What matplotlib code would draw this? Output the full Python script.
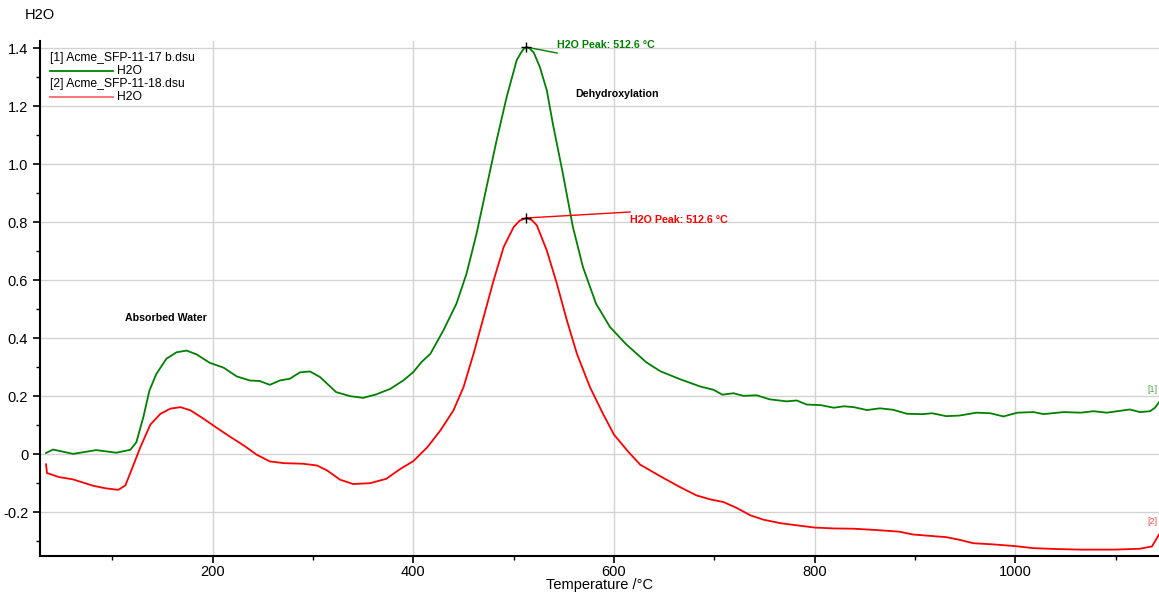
import numpy as np
import matplotlib
matplotlib.use("Agg")
import matplotlib.pyplot as plt
from matplotlib.ticker import MultipleLocator, FuncFormatter

plt.rcParams['font.family'] = ['Liberation Sans', 'DejaVu Sans']
plt.rcParams['axes.unicode_minus'] = False

# Serie 1: Acme_SFP-11-17 b.dsu (verde)
temp_1 = [34, 41, 61, 84, 104, 118, 124, 131, 137, 144, 154, 164, 174, 184, 197,
          211, 224, 237, 247, 257, 267, 277, 287, 297, 307, 323, 337, 350, 363,
          377, 390, 400, 408, 417, 430, 443, 453, 463, 473, 483, 493, 503, 507,
          510, 512.6, 516, 520, 526, 533, 539, 549, 559, 569, 582, 596, 612, 632,
          646, 666, 686, 699, 708, 719, 729, 742, 755, 772, 782, 792, 806, 819,
          829, 839, 852, 865, 878, 892, 908, 917, 931, 944, 961, 975, 988, 1002,
          1018, 1028, 1048, 1065, 1078, 1091, 1114, 1124, 1134, 1139, 1143]
h2o_1 = [0.005, 0.017, 0.002, 0.015, 0.006, 0.016, 0.042, 0.129, 0.220, 0.278,
         0.330, 0.352, 0.358, 0.345, 0.316, 0.299, 0.269, 0.255, 0.253, 0.240,
         0.255, 0.261, 0.283, 0.286, 0.267, 0.215, 0.201, 0.195, 0.207, 0.226,
         0.255, 0.284, 0.318, 0.347, 0.428, 0.520, 0.623, 0.761, 0.922, 1.083,
         1.232, 1.359, 1.383, 1.398, 1.404, 1.399, 1.385, 1.336, 1.255, 1.140,
         0.968, 0.784, 0.646, 0.520, 0.439, 0.380, 0.318, 0.287, 0.259, 0.234,
         0.223, 0.206, 0.211, 0.202, 0.204, 0.190, 0.183, 0.186, 0.172, 0.170,
         0.161, 0.166, 0.163, 0.153, 0.159, 0.154, 0.140, 0.139, 0.142, 0.132,
         0.134, 0.144, 0.142, 0.131, 0.144, 0.146, 0.139, 0.146, 0.144, 0.149,
         0.144, 0.155, 0.146, 0.149, 0.161, 0.180]

# Serie 2: Acme_SFP-11-18.dsu (rojo)
temp_2 = [34, 35, 47, 61, 81, 94, 106, 113, 119, 128, 138, 148, 158, 168, 178,
          191, 204, 217, 231, 244, 257, 271, 290, 304, 314, 327, 340, 357, 373,
          387, 400, 414, 427, 440, 450, 460, 470, 480, 490, 500, 506, 512.6, 518,
          523, 533, 543, 553, 563, 576, 589, 600, 614, 626, 646, 666, 682, 696,
          709, 722, 736, 749, 766, 786, 800, 819, 839, 859, 884, 898, 931, 944,
          958, 978, 1000, 1018, 1041, 1065, 1098, 1124, 1136, 1143]
h2o_2 = [-0.034, -0.064, -0.078, -0.086, -0.108, -0.117, -0.122, -0.107, -0.055,
         0.025, 0.103, 0.140, 0.158, 0.163, 0.152, 0.123, 0.092, 0.062, 0.031,
         -0.001, -0.024, -0.030, -0.032, -0.038, -0.055, -0.087, -0.102, -0.099,
         -0.084, -0.050, -0.023, 0.025, 0.083, 0.152, 0.232, 0.347, 0.473, 0.600,
         0.715, 0.784, 0.806, 0.815, 0.808, 0.790, 0.703, 0.589, 0.462, 0.347,
         0.232, 0.140, 0.068, 0.010, -0.035, -0.075, -0.113, -0.141, -0.155,
         -0.164, -0.184, -0.210, -0.225, -0.237, -0.246, -0.252, -0.255, -0.256,
         -0.260, -0.266, -0.276, -0.285, -0.294, -0.306, -0.310, -0.316, -0.323,
         -0.326, -0.328, -0.328, -0.325, -0.317, -0.276]

nombres = ['[1] Acme_SFP-11-17 b.dsu', '[2] Acme_SFP-11-18.dsu']
colores = ['#008000', '#ff0000']
pico_temp = 512.6

fig = plt.figure(figsize=(11.59, 5.95), dpi=100)
ax = fig.add_axes([40 / 1159, 1 - 556 / 595, 1 - 40 / 1159, (556 - 41) / 595])

series = [(temp_1, h2o_1), (temp_2, h2o_2)]
for (t, v), c in zip(series, colores):
    ax.plot(t, v, color=c, lw=1.3, zorder=3, solid_joinstyle='round')

ax.set_xlim(28, 1143)
ax.set_ylim(-0.35, 1.425)

# Ejes estilo software de análisis térmico
for s in ['top', 'right']:
    ax.spines[s].set_visible(False)
for s in ['left', 'bottom']:
    ax.spines[s].set_linewidth(1.5)
ax.xaxis.set_major_locator(MultipleLocator(200))
ax.xaxis.set_minor_locator(MultipleLocator(100))
ax.yaxis.set_major_locator(MultipleLocator(0.2))
ax.yaxis.set_minor_locator(MultipleLocator(0.1))
ax.yaxis.set_major_formatter(FuncFormatter(lambda v, p: '0' if abs(v) < 1e-9 else f'{v:.1f}'))
ax.tick_params(which='major', direction='out', length=5, width=1.2, labelsize=10.5)
ax.tick_params(axis='x', which='major', pad=1.5)
ax.tick_params(which='minor', direction='out', length=3, width=1)
ax.grid(True, which='major', color='#d3d3d3', lw=1)
ax.set_axisbelow(True)

ax.set_xlabel('Temperature /°C', fontsize=10.5, labelpad=-1)
fig.text(25 / 1159, 1 - 15 / 595, 'H2O', fontsize=10.5, va='center', ha='left')

# Leyenda manual
for i, (nombre, c) in enumerate(zip(nombres, colores)):
    y0 = 0.967 - i * 0.0505
    ax.text(0.009, y0, nombre, transform=ax.transAxes, fontsize=8.7, va='center')
    ax.plot([0.009, 0.065], [y0 - 0.025, y0 - 0.025], transform=ax.transAxes,
            color=c, lw=1.3, alpha=0.6 if i == 1 else 1)
    ax.text(0.069, y0 - 0.025, 'H2O', transform=ax.transAxes, fontsize=8.7, va='center')

# Picos
peaks = [(pico_temp, h2o_1[temp_1.index(pico_temp)], (31, -6), (31, 2)),
         (pico_temp, h2o_2[temp_2.index(pico_temp)], (104, 6), (104, -2))]
for (px, py, lin_off, txt_off), c in zip(peaks, colores):
    ax.plot(px, py, marker='+', color='black', ms=7, mew=1, zorder=4)
    ax.annotate('', xy=(px, py), xytext=lin_off, textcoords='offset pixels',
                arrowprops=dict(arrowstyle='-', color=c, lw=1, shrinkA=0, shrinkB=0))
    ax.annotate(f'H2O Peak: {px} °C', xy=(px, py), xytext=txt_off,
                textcoords='offset pixels', color=c, fontsize=7.7,
                fontweight='bold', ha='left', va='center')

ax.text(603, 1.241, 'Dehydroxylation', fontsize=7.7, fontweight='bold', ha='center', va='center')
ax.text(153, 0.472, 'Absorbed Water', fontsize=7.7, fontweight='bold', ha='center', va='center')

# Etiquetas al final de cada curva
ax.text(1142, h2o_1[-1] + 0.035, '[1]', color=colores[0], fontsize=6.5, alpha=0.7, ha='right')
ax.text(1142, h2o_2[-1] + 0.035, '[2]', color=colores[1], fontsize=6.5, alpha=0.7, ha='right')

fig.savefig('out.png', dpi=100)
